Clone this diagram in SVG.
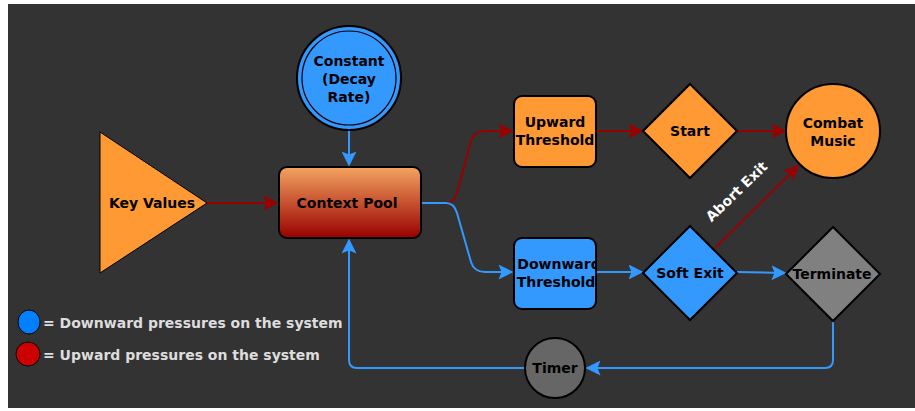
<svg xmlns="http://www.w3.org/2000/svg" width="915" height="411" viewBox="0 0 915 411">
<style>
  .lbl{font-family:"DejaVu Sans","Liberation Sans",sans-serif;font-weight:bold;font-size:14px;fill:#000;text-anchor:middle;}
  .leg{font-family:"DejaVu Sans","Liberation Sans",sans-serif;font-weight:bold;font-size:14px;fill:#dddddd;}
  .node{stroke:#000;stroke-width:2;}
  .orange{fill:#ff9933;}
  .blue{fill:#3399ff;}
  .red-c{fill:none;stroke:#990000;stroke-width:2;}
  .blue-c{fill:none;stroke:#3399ff;stroke-width:2;}
</style>
<defs>
  <linearGradient id="cpg" x1="0" y1="0" x2="0" y2="1">
    <stop offset="0" stop-color="#f4a460"/>
    <stop offset="1" stop-color="#990000"/>
  </linearGradient>
  <marker id="ar" viewBox="0 0 10 10" refX="9" refY="5" markerWidth="7.5" markerHeight="7.5" markerUnits="strokeWidth" orient="auto">
    <path d="M0,0 L10,5 L0,10 L2,5 Z" fill="#990000"/>
  </marker>
  <marker id="ab" viewBox="0 0 10 10" refX="9" refY="5" markerWidth="7.5" markerHeight="7.5" markerUnits="strokeWidth" orient="auto">
    <path d="M0,0 L10,5 L0,10 L2,5 Z" fill="#3399ff"/>
  </marker>
  <clipPath id="dclip"><rect x="514" y="238" width="82" height="71"/></clipPath>
</defs>
<rect x="8" y="4" width="907" height="404" fill="#333333"/>

<g id="connectors">
  <path class="red-c" d="M421,203 L446,203 Q454,203 457,193 L471,141 Q474,131 485,131 L512,131" marker-end="url(#ar)"/>
  <path class="blue-c" d="M421,203 L446,203 Q454,203 457,213 L471,262 Q474,272 485,272 L512,272" marker-end="url(#ab)"/>
  <path class="blue-c" d="M349,131 L349,165" marker-end="url(#ab)"/>
  <path class="red-c" d="M207,203 L277,203" marker-end="url(#ar)"/>
  <path class="red-c" d="M596,131 L642,131" marker-end="url(#ar)"/>
  <path class="red-c" d="M737,131 L785,131" marker-end="url(#ar)"/>
  <path class="blue-c" d="M596,272 L642,272" marker-end="url(#ab)"/>
  <path class="blue-c" d="M737,272 L785,273" marker-end="url(#ab)"/>
  <path class="red-c" d="M715,248 L798,166" marker-end="url(#ar)"/>
  <path class="blue-c" d="M833,320 L833,360 Q833,368 825,368 L587,368" marker-end="url(#ab)"/>
  <path class="blue-c" d="M525,368 L357,368 Q349,368 349,360 L349,240" marker-end="url(#ab)"/>
  <text class="leg" transform="translate(740,195) rotate(-44)" text-anchor="middle" style="fill:#ffffff">Abort Exit</text>
</g>

<g id="constant">
  <circle class="node blue" cx="349" cy="78" r="52"/>
  <circle cx="349" cy="78" r="47" fill="none" stroke="#000" stroke-width="1.2"/>
  <text class="lbl" x="349" y="66">Constant</text>
  <text class="lbl" x="349" y="84">(Decay</text>
  <text class="lbl" x="349" y="102">Rate)</text>
</g>

<g id="keyvalues">
  <polygon class="orange" stroke="#000" stroke-width="1" points="100,132 100,273 207,203"/>
  <text class="lbl" x="152" y="208">Key Values</text>
</g>

<g id="contextpool">
  <rect class="node" x="279" y="167" width="142" height="71" rx="8" fill="url(#cpg)"/>
  <text class="lbl" x="347" y="208">Context Pool</text>
</g>

<g id="upward">
  <rect class="node orange" x="514" y="96" width="82" height="71" rx="8"/>
  <text class="lbl" x="555" y="127">Upward</text>
  <text class="lbl" x="555" y="145">Threshold</text>
</g>

<g id="downward">
  <rect class="node blue" x="514" y="238" width="82" height="71" rx="8"/>
  <g clip-path="url(#dclip)">
    <text class="lbl" x="559" y="269">Downward</text>
    <text class="lbl" x="556" y="287">Threshold</text>
  </g>
</g>

<g id="start">
  <polygon class="node orange" points="643,131 690,84 737,131 690,178"/>
  <text class="lbl" x="690" y="136">Start</text>
</g>

<g id="combat">
  <circle class="node orange" cx="833" cy="131" r="47"/>
  <text class="lbl" x="833" y="128">Combat</text>
  <text class="lbl" x="833" y="146">Music</text>
</g>

<g id="softexit">
  <polygon class="node blue" points="643,273 690,226 737,273 690,320"/>
  <text class="lbl" x="690" y="278">Soft Exit</text>
</g>

<g id="terminate">
  <polygon class="node" fill="#808080" points="786,274 833,227 880,274 833,321"/>
  <text class="lbl" x="832" y="279">Terminate</text>
</g>

<g id="timer">
  <circle class="node" fill="#666666" cx="555" cy="368" r="30"/>
  <text class="lbl" x="555" y="373">Timer</text>
</g>

<g id="legend">
  <ellipse cx="29" cy="322" rx="11" ry="12" fill="#0080ff" stroke="#000" stroke-width="1"/>
  <text class="leg" x="43" y="328">= Downward pressures on the system</text>
  <ellipse cx="28" cy="354" rx="12" ry="12" fill="#cc0000" stroke="#000" stroke-width="1"/>
  <text class="leg" x="43" y="360">= Upward pressures on the system</text>
</g>
</svg>
